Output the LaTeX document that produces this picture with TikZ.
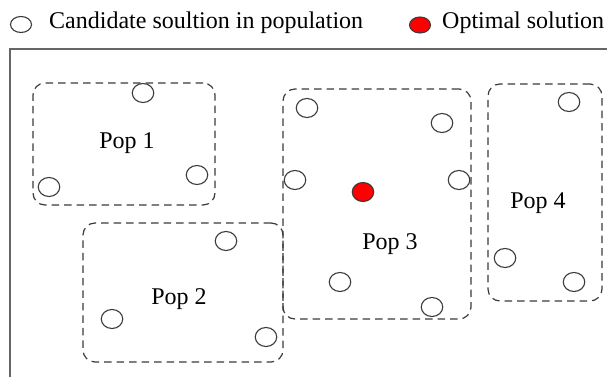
\documentclass[tikz,border=0pt]{standalone}
\usepackage{fontspec}
\setmainfont{Liberation Serif}
\usetikzlibrary{shapes.geometric}
\definecolor{optred}{HTML}{FF0000}
\definecolor{lineg}{HTML}{3A3A3A}
\definecolor{frameg}{HTML}{666666}
\tikzset{
  cand/.style={ellipse, draw=lineg, line width=1.1pt, fill=white, minimum width=21.5pt, minimum height=19pt, inner sep=0pt},
  best/.style={cand, fill=optred},
  popbox/.style={draw=lineg, line width=1.2pt, dash pattern=on 7.5pt off 5pt, rounded corners=12pt, inner sep=0pt},
  lbl/.style={font=\fontsize{24}{28}\selectfont, inner sep=0pt},
}
\begin{document}
\begin{tikzpicture}[x=1pt,y=-1pt]
\useasboundingbox (0,0) rectangle (607,377);
% frame
\draw[frameg, line width=1.5pt] (10,378) -- (10,49) -- (608,49);
% legend
\node[cand, minimum width=21pt, minimum height=16pt] (lc) at (21,24.5) {};
\node[lbl, anchor=base west] (lt1) at (49,29) {Candidate soultion in population};
\node[best, minimum width=21pt, minimum height=16pt] (lr) at (420,25) {};
\node[lbl, anchor=base west] (lt2) at (442,29) {Optimal solution};
% population boxes
\node[popbox, minimum width=182pt, minimum height=122pt] (p1) at (124,144) {};
\node[popbox, minimum width=200pt, minimum height=139pt] (p2) at (183,292.5) {};
\node[popbox, minimum width=188pt, minimum height=230pt] (p3) at (377,204) {};
\node[popbox, minimum width=114pt, minimum height=217pt] (p4) at (545,192.5) {};
% labels
\node[lbl] (l1) at (127,143) {Pop 1};
\node[lbl] (l2) at (179,299) {Pop 2};
\node[lbl] (l3) at (390,244) {Pop 3};
\node[lbl] (l4) at (538,203) {Pop 4};
% pop 1
\node[cand] (a1) at (143,93) {};
\node[cand] (a2) at (49,187) {};
\node[cand] (a3) at (197,175) {};
% pop 2
\node[cand] (b1) at (226,241) {};
\node[cand] (b2) at (112,319) {};
\node[cand] (b3) at (266,337) {};
% pop 3
\node[cand] (c1) at (307,108) {};
\node[cand] (c2) at (442,123) {};
\node[cand] (c3) at (295,180) {};
\node[cand] (c4) at (459,180) {};
\node[best] (c5) at (363,192) {};
\node[cand] (c6) at (340,282) {};
\node[cand] (c7) at (432,307) {};
% pop 4
\node[cand] (d1) at (569,102) {};
\node[cand] (d2) at (505,258) {};
\node[cand] (d3) at (574,282) {};
\end{tikzpicture}
\end{document}
